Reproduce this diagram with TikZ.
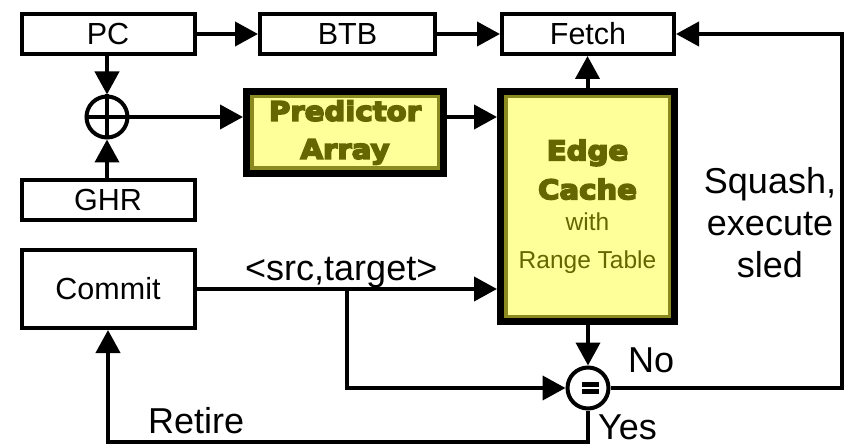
\documentclass[tikz,border=0pt]{standalone}
\usepackage{fontspec}
\setmainfont{Liberation Sans}
\newfontfamily\heavyfont{DejaVu Sans Bold}[FakeStretch=1.08,FakeBold=6]
\usetikzlibrary{arrows.meta}
\definecolor{cellfill}{HTML}{FFFF99}
\definecolor{olivetext}{HTML}{666600}
\definecolor{oliveband}{HTML}{8A8A20}
\newcommand\blockfont{\heavyfont\fontsize{27}{38}\selectfont}

\begin{document}
\begin{tikzpicture}[x=1pt,y=-1pt,
  box/.style={draw, line width=4pt, minimum width=173pt, minimum height=40pt,
    inner sep=0pt, font=\fontsize{30.5}{34}\selectfont},
  hot/.style={draw, line width=7pt, fill=cellfill, inner sep=0pt, text=olivetext,
    align=center,
    path picture={\draw[oliveband,line width=14pt]
      (path picture bounding box.south west) rectangle (path picture bounding box.north east);}},
  op/.style={circle, draw, line width=4pt, minimum size=41pt, inner sep=0pt},
  wire/.style={line width=4pt},
  arr/.style={wire, -{Triangle[length=23pt,width=24pt]}},
  lab/.style={font=\fontsize{36}{40}\selectfont, inner sep=0pt}
]
\useasboundingbox (0,0) rectangle (845,446);

% plain register / stage boxes
\node[box] (pc) at (108,34) {PC};
\node[box, minimum width=175pt] (btb) at (347.5,34) {BTB};
\node[box, minimum width=172pt] (fetch) at (588,34) {Fetch};
\node[box] (ghr) at (108,200) {GHR};
\node[box, minimum height=78pt] (commit) at (108,289) {Commit};

% highlighted structures
\node[hot, minimum width=197pt, minimum height=82pt, font=\blockfont] (pred) at (345,132.5)
  {Predictor\\Array};
\node[hot, minimum width=174pt, minimum height=230pt, font=\fontsize{24.5}{39}\selectfont] (edge) at (587.5,206.5)
  {\blockfont Edge\\\blockfont Cache\\[-8pt]with\\[-1pt]Range Table};

% xor and compare operators
\node[op] (xor) at (107,117) {};
\draw[wire] (xor.north) -- (xor.south) (xor.west) -- (xor.east);
\node[op] (eq) at (588,388) {};
\draw[line width=4.5pt] (eq.center) ++(-6,-3.5) -- ++(17,0) (eq.center) ++(-6,3.5) -- ++(17,0);

% helper points for routed wires
\coordinate (tap) at (347,289);
\coordinate (rc) at (842,0);
\coordinate (bot) at (0,442);

% connectors
\draw[arr] (pc) -- (btb);
\draw[arr] (btb) -- (fetch);
\draw[arr] (xor |- pc.south) -- (xor.north);
\draw[arr] (xor |- ghr.north) -- (xor.south);
\draw[arr] (xor.east) -- (xor.east -| pred.west);
\draw[arr] (xor.east -| pred.east) -- (xor.east -| edge.west);
\draw[arr] (edge.north) -- (edge.north |- fetch.south);
\draw[arr] (eq |- edge.south) -- (eq.north);
\draw[arr] (commit.east) -- (commit.east -| edge.west);
\draw[arr] (tap) |- (eq.west);
\draw[arr] (eq.east) -- (eq.east -| rc) -- (rc |- fetch.east) -- (fetch.east);
\draw[arr] (eq.south) -- (eq.south |- bot) -| (commit.south);

% labels
\node[lab, anchor=base west] (lsrc) at (245,280) {<src,target>};
\node[lab, align=center, font=\fontsize{36}{42}\selectfont] (lsq) at (770,223) {Squash,\\execute\\sled};
\node[lab, anchor=base west] (lno) at (628,372) {No};
\node[lab, anchor=base west] (lyes) at (598,439) {Yes};
\node[lab, anchor=base west] (lret) at (148,433) {Retire};
\end{tikzpicture}
\end{document}
